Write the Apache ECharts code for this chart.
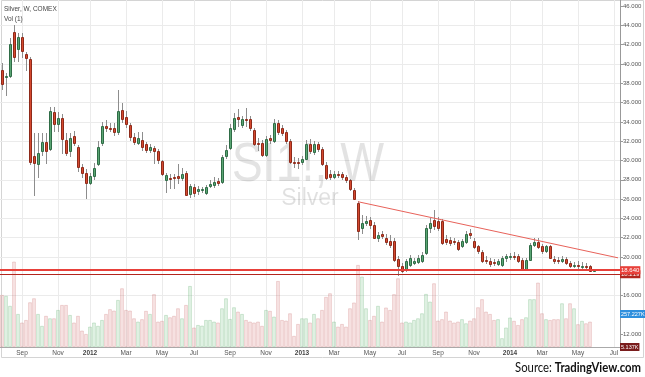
<!DOCTYPE html>
<html><head><meta charset="utf-8">
<script src="https://cdn.jsdelivr.net/npm/echarts@6/dist/echarts.min.js"></script>
<style>html,body{margin:0;padding:0;background:#fff}#c{width:645px;height:377px}</style>
</head><body><div id="c"></div>
<script>
// ---- data ----
const chartTitle = 'Silver, W, COMEX';
const volTitle = 'Vol (1)';
const firstWeek = '2011-08-01';
const weekCount = 155;
// [open, close, low, high]
const candles = [
[39.4,37.9,37.3,40.1],[38.6,38.8,36.7,39.1],[38.8,42.1,38.5,42.7],[43.3,40.7,40.2,44.0],[41.5,42.8,40.2,43.2],
[42.8,41.3,40.6,43.2],[41.0,40.6,39.3,41.2],[40.5,29.8,29.5,40.7],[30.5,29.75,26.3,32.8],[29.6,30.8,28.2,32.8],
[31.0,31.9,30.5,32.8],[31.9,31.0,29.6,32.8],[31.2,35.1,31.0,35.5],[35.0,33.8,32.9,35.5],[33.8,34.4,32.9,35.0],
[34.4,32.25,30.7,34.8],[32.1,30.8,30.5,32.8],[31.0,32.3,30.4,32.8],[32.5,31.8,31.5,33.1],[31.4,29.3,28.8,31.6],
[29.3,28.7,28.2,29.6],[28.7,27.7,26.0,29.1],[27.7,28.4,27.5,28.7],[28.4,29.2,28.0,29.7],[29.6,31.4,29.4,32.0],
[31.8,33.6,31.5,34.0],[33.6,33.4,32.9,34.2],[33.4,33.3,32.9,33.9],[33.4,32.9,32.5,33.9],[32.9,35.1,32.6,37.3],
[35.2,34.3,33.9,36.0],[34.5,33.8,33.4,35.1],[33.7,32.4,32.0,33.9],[32.4,31.9,31.6,32.8],[31.8,32.3,31.6,32.9],
[32.1,31.4,31.0,32.9],[31.7,31.1,30.8,31.9],[31.1,31.4,30.8,31.7],[31.3,31.0,29.6,31.5],[31.0,30.1,29.6,31.2],
[29.9,28.6,28.4,30.0],[28.0,28.5,26.6,28.7],[28.15,28.05,27.0,28.6],[28.3,28.2,27.0,28.6],[28.4,28.2,27.6,29.6],
[28.2,28.6,27.9,29.2],[28.7,26.4,26.3,28.9],[26.55,27.35,26.1,27.6],[27.25,26.6,26.2,27.6],[26.8,27.05,26.4,27.4],
[26.9,27.0,26.6,27.3],[26.6,27.25,26.4,27.5],[27.35,27.6,27.1,28.0],[27.5,27.8,27.2,28.3],[27.9,27.7,27.4,28.2],
[27.8,30.4,27.6,30.6],[30.5,31.1,30.2,31.6],[31.3,33.4,31.1,33.8],[33.3,34.4,33.0,34.9],[34.5,34.3,33.5,35.3],
[33.7,34.3,33.4,34.6],[34.3,34.2,33.5,35.4],[34.3,33.4,33.1,34.6],[33.2,31.7,31.5,33.4],[31.8,31.7,31.0,32.3],
[31.8,30.6,30.4,32.1],[30.6,32.2,30.4,32.5],[32.35,32.1,31.7,32.6],[32.0,33.85,31.8,34.3],[33.85,32.9,32.6,34.2],
[33.4,32.8,32.5,33.7],[32.9,32.0,31.7,33.2],[32.0,29.85,29.6,32.2],[29.85,29.7,29.2,30.4],[29.85,29.7,29.1,30.3],
[29.85,30.2,29.5,30.5],[30.2,31.7,30.0,32.1],[31.75,31.0,30.7,32.2],[30.9,31.75,30.6,32.0],[31.7,31.2,30.9,31.9],
[31.2,29.6,29.4,31.4],[29.55,28.15,28.0,29.8],[28.65,28.3,28.0,29.0],[28.3,28.65,28.1,28.9],[28.6,28.5,28.2,28.9],
[28.6,28.3,28.0,28.8],[28.3,27.95,27.7,28.5],[27.95,27.0,26.8,28.1],[26.9,26.05,25.9,27.1],[25.6,22.65,21.8,25.8],
[23.0,23.5,22.4,24.4],[23.5,23.7,23.2,24.3],[23.8,23.35,22.9,24.1],[23.35,22.0,21.9,23.6],[22.0,22.25,21.6,22.6],
[22.4,22.15,21.9,22.7],[22.0,21.6,21.2,22.4],[21.7,21.3,20.9,22.3],[21.7,19.65,19.5,22.0],[19.8,19.1,18.0,20.1],
[19.1,18.6,18.3,19.4],[18.7,19.55,18.5,19.8],[19.2,19.9,19.0,20.2],[19.4,19.55,19.2,19.9],[19.5,19.9,19.3,20.2],
[19.55,20.2,19.4,20.5],[20.4,23.0,20.2,23.3],[23.0,23.5,22.5,24.0],[23.8,23.2,22.8,24.85],[23.7,23.0,22.7,24.2],
[23.7,21.45,21.3,23.9],[21.9,21.6,21.2,22.3],[21.8,21.45,21.1,22.1],[21.7,21.55,21.3,22.0],[21.6,20.85,20.6,21.8],
[21.1,21.7,20.9,21.9],[21.6,22.4,21.4,22.7],[22.5,22.25,21.9,22.9],[21.7,21.0,20.8,22.0],[21.1,20.6,20.3,21.3],
[20.5,19.55,19.4,20.7],[19.7,19.55,19.3,20.1],[19.6,19.25,19.0,19.9],[19.5,19.35,19.1,19.8],[19.25,19.55,19.1,19.8],
[19.2,19.9,19.0,20.1],[19.95,20.1,19.5,20.3],[20.0,20.1,19.7,20.4],[20.1,20.0,19.7,20.5],[20.1,19.6,19.4,20.3],
[19.7,18.8,18.7,19.9],[18.8,19.7,18.6,19.9],[19.7,21.2,19.6,21.5],[21.25,21.6,21.0,22.0],[21.6,21.0,20.8,22.0],
[21.1,20.6,20.3,21.4],[20.6,21.1,20.4,21.3],[21.1,19.95,19.8,21.3],[19.85,19.55,19.3,20.1],[19.7,19.6,19.3,20.0],
[19.6,19.75,19.4,20.1],[19.75,19.35,19.2,20.0],[19.35,19.1,18.9,19.6],[19.1,19.2,18.9,19.5],[19.2,19.05,18.8,19.6],
[19.0,19.1,18.8,19.5],[19.1,19.0,18.8,19.4],[19.1,18.6,18.5,19.2],[18.6,18.64,18.55,18.7]
];
// weekly volume, thousands
const volumes = [
405,398,320,665,257,190,210,348,379,257,
164,242,223,223,288,327,327,249,190,242,
127,101,158,190,164,210,257,294,283,366,
457,288,283,223,197,216,281,257,411,197,
203,249,231,242,301,223,327,475,151,171,
166,210,210,197,190,301,379,218,309,275,
257,210,197,190,197,164,288,281,236,514,
210,205,262,86,179,223,223,190,257,223,
288,390,418,197,158,179,158,301,346,639,
548,301,210,242,320,197,307,288,411,535,
190,197,190,210,223,262,413,353,496,205,
216,275,205,190,197,216,184,205,223,309,
372,275,257,210,216,68,151,229,203,171,
216,231,372,372,501,262,216,210,216,216,
340,223,340,301,177,203,184,197,null
];
const priceTicks = [12,16,20,22,24,26,28,30,32,34,36,38,40,42,44,46];
const currentPrice = 18.640;
const supportLevel = 18.219;
const lastVolume = 257.227;
const bottomTag = '5.137K';
const trendStart = [89, 25.73];
const trendEnd = [154, 19.92];
const monthNames = ['Jan','Feb','Mar','Apr','May','Jun','Jul','Aug','Sep','Oct','Nov','Dec'];

// ---- build ----
const weeks = [];
const d0 = new Date(firstWeek + 'T00:00:00Z').getTime();
for (let i = 0; i < weekCount; i++) weeks.push(new Date(d0 + i * 7 * 864e5).toISOString().slice(0, 10));
function monthOf(i) { return +weeks[i].slice(5, 7) - 1; }
function isMarker(i) { if (i <= 0) return false; const m = monthOf(i); return m !== monthOf(i - 1) && m % 2 === 0; }

const FONT = 'Liberation Sans';
const PX = 9.656;          // px per price unit
const Y46 = 6;             // pixel y of price 46
const gridA = { left: 0, width: 620, top: Y46 - 2 * PX, height: 38 * PX, outerBoundsMode: 'none' };
const gridB = { left: 0, width: 620, top: 0, height: 347, outerBoundsMode: 'none' };
const VOL_MAX = 347 * (lastVolume / 33);

const candleData = candles.map((c, i) => [i, c[0], c[1], c[2], c[3]]);
const volData = volumes.map((v, i) => {
  if (v == null) return null;
  const up = candles[i][1] >= candles[i][0];
  return { value: v, itemStyle: {
    color: up ? 'rgba(110,190,125,0.2)' : 'rgba(215,120,120,0.2)',
    borderColor: up ? 'rgba(100,175,115,0.4)' : 'rgba(205,120,120,0.4)', borderWidth: 0.7 } };
});

function renderCandle(params, api) {
  const i = api.value(0), o = api.value(1), c = api.value(2), l = api.value(3), h = api.value(4);
  const up = c >= o;
  const pT = api.coord([i, Math.max(o, c)]);
  const pB = api.coord([i, Math.min(o, c)]);
  const pH = api.coord([i, h]);
  const pL = api.coord([i, l]);
  const col = Math.round(pT[0]);
  const yT = Math.round(pT[1]) + 0.5;
  let yB = Math.round(pB[1]) + 0.5;
  if (yB - yT < 1) yB = yT + 1;
  return { type: 'group', children: [
    { type: 'line', shape: { x1: col + 0.5, y1: Math.round(pH[1]), x2: col + 0.5, y2: Math.round(pL[1]) },
      style: { stroke: '#8d8d8d', lineWidth: 1 } },
    { type: 'rect', shape: { x: col - 0.5, y: yT, width: 2, height: yB - yT },
      style: { fill: up ? '#5aa674' : '#d5492f', stroke: up ? '#2f6c46' : '#8e2a1a', lineWidth: 1 } }
  ]};
}

const tagLabel = (txt, bg, fs) => ({ show: true, position: 'end', distance: 0, formatter: txt, backgroundColor: bg,
  color: '#fff', fontSize: fs || 6, fontFamily: FONT, padding: [1, 1, 1, 1] });

const chart = echarts.init(document.getElementById('c'));
chart.setOption({
  animation: false,
  backgroundColor: '#fff',
  textStyle: { fontFamily: FONT },
  grid: [gridA, gridB],
  xAxis: [
    { type: 'category', gridIndex: 0, data: weeks, show: false },
    { type: 'category', gridIndex: 1, data: weeks,
      axisLine: { lineStyle: { color: '#aaa' } },
      axisTick: { show: false },
      axisLabel: { interval: (i) => isMarker(i), fontSize: 6.5, color: '#555', margin: 3,
        formatter: (v) => { const m = +v.slice(5, 7) - 1; return m === 0 ? '{y|' + v.slice(0, 4) + '}' : monthNames[m]; },
        rich: { y: { fontSize: 6.5, fontWeight: 'bold', color: '#444' } } },
      splitLine: { show: true, interval: (i) => isMarker(i), alignWithLabel: true, lineStyle: { color: '#ebebeb' } } }
  ],
  yAxis: [
    { type: 'value', gridIndex: 0, min: 10, max: 48, interval: 2, position: 'right',
      axisLine: { show: false },
      axisTick: { show: true, length: 3, customValues: priceTicks, lineStyle: { color: '#999' } },
      axisLabel: { customValues: priceTicks, fontSize: 6, color: '#555', margin: 3,
        formatter: (v) => (priceTicks.indexOf(v) >= 0 ? v.toFixed(3) : '') },
      splitLine: { show: true, showMinLine: false, showMaxLine: false, lineStyle: { color: '#ebebeb' } } },
    { type: 'value', gridIndex: 1, min: 0, max: VOL_MAX, position: 'right',
      axisLine: { show: true, lineStyle: { color: '#999' } },
      axisTick: { show: false }, axisLabel: { show: false }, splitLine: { show: false } }
  ],
  series: [
    { type: 'bar', xAxisIndex: 1, yAxisIndex: 1, data: volData, barCategoryGap: '12%', z: 2, silent: true,
      markLine: { symbol: 'none', silent: true, animation: false, data: [
        { yAxis: lastVolume, lineStyle: { color: 'transparent', width: 0 }, label: tagLabel(lastVolume.toFixed(3) + 'K', '#2f8fdd', 5.5) },
        { yAxis: 0, lineStyle: { color: 'transparent', width: 0 }, label: tagLabel(bottomTag, '#7a1d1d', 5.5) }
      ] } },
    { type: 'custom', xAxisIndex: 0, yAxisIndex: 0, data: candleData, renderItem: renderCandle, z: 4,
      encode: { x: 0, y: [1, 2, 3, 4] }, silent: true },
    { type: 'line', xAxisIndex: 0, yAxisIndex: 0, data: candles.map(c => c[1]), showSymbol: false, silent: true,
      lineStyle: { opacity: 0 }, z: 5,
      markLine: { symbol: 'none', silent: true, animation: false, data: [
        { yAxis: supportLevel, lineStyle: { color: '#b3261e', width: 1, type: 'solid' }, label: tagLabel(supportLevel.toFixed(3), '#b3261e') },
        { yAxis: currentPrice, lineStyle: { color: '#e8403a', width: 2, type: 'solid' }, label: tagLabel(currentPrice.toFixed(3), '#e8403a') },
        [ { coord: trendStart }, { coord: trendEnd, lineStyle: { color: '#e8625a', width: 1, type: 'solid' }, label: { show: false } } ]
      ] } }
  ],
  graphic: [
    { type: 'rect', z: 0, shape: { x: 1.5, y: 0.5, width: 642, height: 357 }, style: { fill: 'none', stroke: '#d4d4d4', lineWidth: 1 } },
    { type: 'text', z: 1, x: 308, y: 166, scaleX: 0.83,
      style: { text: 'SI1!, W', x: 0, y: 0, align: 'center', verticalAlign: 'middle', fontSize: 56, fontFamily: FONT, fill: 'rgba(0,0,0,0.11)' } },
    { type: 'text', z: 1, x: 310, y: 199,
      style: { text: 'Silver', x: 0, y: 0, align: 'center', verticalAlign: 'middle', fontSize: 23, fontFamily: FONT, fill: 'rgba(0,0,0,0.12)' } },
    { type: 'text', z: 10, x: 4, y: 9,
      style: { text: chartTitle, x: 0, y: 0, verticalAlign: 'middle', fontSize: 6.5, fontFamily: FONT, fill: '#444' } },
    { type: 'text', z: 10, x: 4, y: 19,
      style: { text: volTitle, x: 0, y: 0, verticalAlign: 'middle', fontSize: 6.5, fontFamily: FONT, fill: '#444' } },
    { type: 'text', z: 10, x: 641, y: 368, scaleX: 0.87,
      style: { text: '{a|Source: }{b|TradingView.com}', x: 0, y: 0, align: 'right', verticalAlign: 'middle',
        rich: { a: { fontSize: 13, fontFamily: 'Lato', fill: '#111', color: '#111' },
                b: { fontSize: 13, fontFamily: 'Lato', fontWeight: 'bold', fill: '#111', color: '#111' } } } }
  ]
});
</script></body></html>
